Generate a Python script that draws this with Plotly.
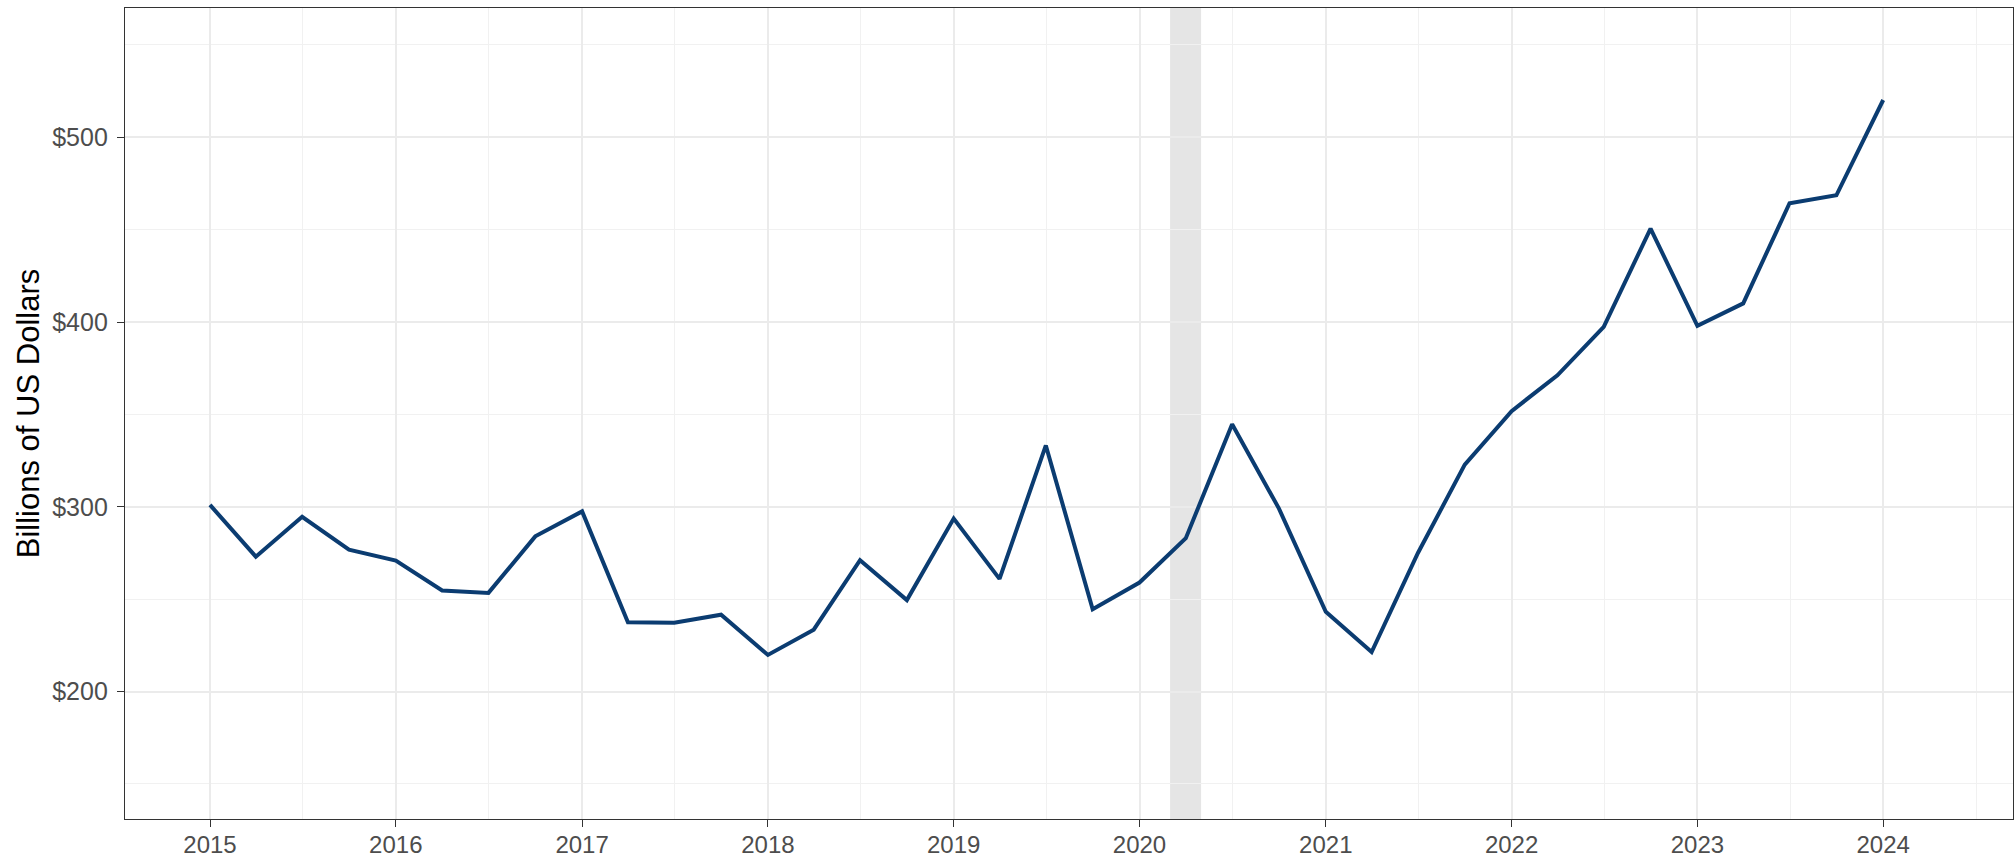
import pandas as pd
import plotly.graph_objects as go

# Quarterly observations, 2015Q1 .. 2024Q1
quarters = [d.strftime("%Y-%m-%d") for d in pd.date_range("2015-01-01", periods=37, freq="QS")]
values = [
    301.0, 273.0, 294.6, 276.8,
    270.9, 254.7, 253.4, 284.0,
    297.5, 237.5, 237.2, 241.6,
    219.8, 233.5, 271.1, 249.5,
    293.6, 261.0, 333.2, 244.5,
    259.0, 283.0, 344.7, 299.0,
    243.2, 221.4, 275.0, 322.8,
    351.8, 371.2, 397.4, 450.6,
    398.0, 410.1, 464.3, 468.6,
    520.2,
]

recession_start = "2020-03-01"
recession_end = "2020-05-01"

y_ticks = [200, 300, 400, 500]
y_tick_labels = ["$200", "$300", "$400", "$500"]
x_ticks = [f"{y}-01-01" for y in range(2015, 2025)]
x_tick_labels = [str(y) for y in range(2015, 2025)]

fig = go.Figure()
fig.add_trace(go.Scatter(
    x=quarters, y=values, mode="lines",
    line=dict(color="#0B3C71", width=4.0),
    showlegend=False, hoverinfo="x+y",
))

fig.add_shape(
    type="rect", xref="x", yref="paper",
    x0=recession_start, x1=recession_end, y0=0, y1=1,
    fillcolor="rgba(0,0,0,0.1)", line=dict(width=0), layer="between",
)

axis_common = dict(
    showline=True, linecolor="#333333", linewidth=1.4, mirror=True,
    ticks="outside", ticklen=7, tickwidth=1.4, tickcolor="#333333",
    gridcolor="#EBEBEB", gridwidth=1.6, zeroline=False, automargin=False,
)
tick_font = dict(family="Liberation Sans, Arial, sans-serif", size=25, color="#4D4D4D")

fig.update_xaxes(
    type="date", range=["2014-07-18", "2024-09-12"],
    tickmode="array", tickvals=x_ticks, ticktext=x_tick_labels,
    tickfont=dict(tick_font, size=24),
    ticklabelstandoff=-3,
    minor=dict(tick0="2015-07-02", dtick="M12", showgrid=True, gridcolor="#F1F1F1", gridwidth=1),
    **axis_common,
)
fig.update_yaxes(
    range=[131, 570],
    tickmode="array", tickvals=y_ticks, ticktext=y_tick_labels,
    tickfont=tick_font,
    ticklabelstandoff=4,
    minor=dict(tick0=150, dtick=100, showgrid=True, gridcolor="#F1F1F1", gridwidth=1),
    title=dict(text="Billions of US Dollars", standoff=3,
               font=dict(family="Liberation Sans, Arial, sans-serif", size=31, color="#000000")),
    **axis_common,
)

fig.update_layout(
    width=2015, height=858,
    margin=dict(l=125, r=2, t=8, b=39, pad=0),
    paper_bgcolor="white", plot_bgcolor="white",
)

fig.write_html(
    "out.html",
    config={"displayModeBar": False},
    post_script="document.body.style.margin='0';document.body.style.overflow='hidden';",
)
